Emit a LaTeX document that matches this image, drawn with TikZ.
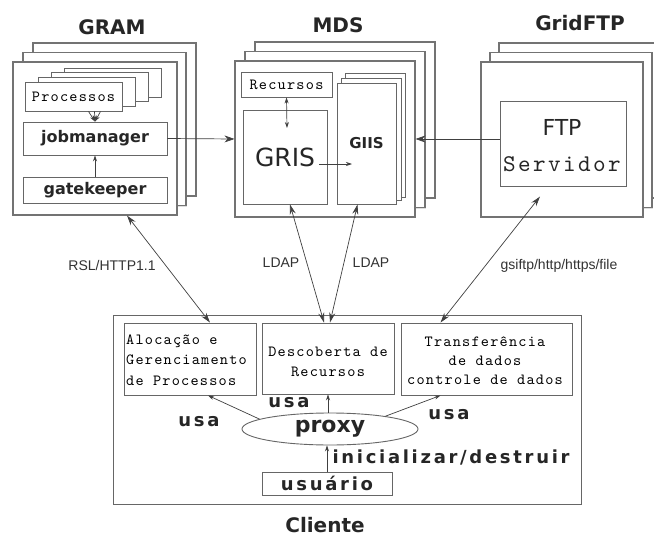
\documentclass[tikz,border=0pt]{standalone}
\usepackage{fontspec}
\usetikzlibrary{arrows.meta,shapes.geometric,shadows}
\newfontfamily\djv{DejaVu Sans}
\newfontfamily\djvsp[LetterSpace=15]{DejaVu Sans}
\newfontfamily\libs{Liberation Sans}
\newfontfamily\lmmsp[Extension=.otf, LetterSpace=8]{lmmono10-regular}
\newfontfamily\lmmwide[Extension=.otf, LetterSpace=10]{lmmono10-regular}
\newcommand\smallmono{\lmmsp\fontsize{15.5}{20.5}\selectfont}
\newcommand\bigmono{\lmmwide\fontsize{24}{28}\selectfont}
\tikzset{
  frame/.style={draw=black!55, line width=1.1pt, fill=white, inner sep=0pt,
    drop shadow={shadow xshift=1.2pt, shadow yshift=-1.2pt, fill=black!25}},
  box/.style={draw=black!60, line width=0.9pt, fill=white, inner sep=0pt},
  lnk/.style={draw=black!75, line width=0.7pt},
  big/.style={lnk, {Stealth[length=10pt,width=6pt]}-{Stealth[length=10pt,width=6pt]}},
  sm/.style={lnk, -{Stealth[length=6pt,width=4pt]}},
  title/.style={font=\djv\bfseries\fontsize{20}{24}\selectfont, text=black!85},
  bold/.style={font=\djv\bfseries\fontsize{16}{19}\selectfont, text=black!85},
  act/.style={font=\djvsp\bfseries\fontsize{18}{21}\selectfont, text=black!85},
  proto/.style={font=\libs\fontsize{14}{17}\selectfont, text=black!80},
}
\begin{document}
\begin{tikzpicture}[x=1pt,y=-1pt]
\useasboundingbox (0,0) rectangle (654,538);
\fill[white] (0,0) rectangle (654,538);
\clip (0,0) rectangle (654,538);

% ---------- titles ----------
\node[title] (tgram) at (112,27) {GRAM};
\node[title] (tmds) at (338,25) {MDS};
\node[title] (tftp) at (580,23) {GridFTP};

% ---------- GRAM stack ----------
\draw[frame] (33,43) rectangle (196,196);
\draw[frame] (23,52.5) rectangle (186,205.5);
\node[frame, minimum width=164pt, minimum height=153pt] (gram) at (95,138.5) {};
\draw[box] (64,68) rectangle (161,97);
\draw[box] (51,72.5) rectangle (148,101.5);
\draw[box] (38,77) rectangle (135,106);
\node[box, minimum width=97pt, minimum height=29pt, font=\smallmono] (proc) at (73.5,96.5) {Processos};
\node[box, minimum width=144pt, minimum height=33pt, bold] (jobman) at (95,138.5) {jobmanager};
\node[box, minimum width=144pt, minimum height=26pt, bold] (gate) at (95,190) {gatekeeper};

% ---------- MDS stack ----------
\draw[frame] (255,42) rectangle (435,198);
\draw[frame] (245,51.5) rectangle (425,207.5);
\node[frame, minimum width=180pt, minimum height=156pt] (mds) at (325,139) {};
\node[box, minimum width=91pt, minimum height=25pt, font=\smallmono] (rec) at (286.5,84.5) {Recursos};
\node[box, minimum width=84pt, minimum height=94pt, font=\djv\fontsize{25}{30}\selectfont, text=black!85] (gris) at (285,157) {GRIS};
\draw[box] (345,73) rectangle (405,197);
\draw[box] (341,78) rectangle (401,200.5);
\node[box, minimum width=59pt, minimum height=121pt, font=\djv\bfseries\fontsize{15}{18}\selectfont, text=black!85] (giis) at (366.5,143.5) {GIIS};
\coordinate (grisin) at (287,128);
\coordinate (grisout) at (319,164);
\coordinate (giisin) at (352,164);

% ---------- GridFTP stack ----------
\draw[frame] (499,43) rectangle (661,198);
\draw[frame] (490,52.5) rectangle (652,207.5);
\node[frame, minimum width=162pt, minimum height=155pt] (ftpf) at (562,139.5) {};
\node[box, minimum width=126pt, minimum height=85pt] (ftp) at (563,143.5) {};
\node[font=\djv\fontsize{22}{26}\selectfont, text=black!85] (ftptxt) at (562,127) {FTP};
\node[font=\bigmono, text=black!85] (serv) at (562,164) {Servidor};
\coordinate (ftpin) at (ftp.west |- mds.east);

% ---------- client ----------
\node[draw=black!60, line width=0.9pt, inner sep=0pt, minimum width=468pt, minimum height=189pt] (cli) at (347,409.5) {};
\node[font=\djv\bfseries\fontsize{20}{24}\selectfont, text=black!85, inner sep=1pt] (tcli) at (325,525) {Cliente};
\node[box, minimum width=132pt, minimum height=72pt] (aloc) at (190,359) {};
\node[anchor=west, align=left, font=\smallmono, inner sep=0pt] (aloctxt) at (126,360) {Alocação e\\Gerenciamento\\de Processos};
\node[box, minimum width=132pt, minimum height=71pt] (desc) at (328,358.5) {};
\node[align=center, font=\smallmono, inner sep=0pt] (desctxt) at (328,362) {Descoberta de\\Recursos};
\node[box, minimum width=171pt, minimum height=72pt] (transf) at (486.5,359) {};
\node[align=center, font=\lmmsp\fontsize{15.5}{19}\selectfont, inner sep=0pt] (transftxt) at (485,361) {Transferência\\de dados\\controle de dados};
\node[ellipse, draw=black!60, line width=0.9pt, inner sep=0pt, minimum width=176pt, minimum height=32pt,
      font=\djv\bfseries\fontsize{22}{26}\selectfont, text=black!85] (proxy) at (330,429) {proxy};
\node[box, minimum width=130pt, minimum height=23pt, act] (usu) at (327,483.5) {usuário};
\node[act] (usa1) at (199,422) {usa};
\node[act] (usa2) at (289,403) {usa};
\node[act] (usa3) at (449,415) {usa};
\node[act] (init) at (451,457) {inicializar/destruir};

% ---------- connectors inside the services ----------
\draw[sm] ([xshift=15pt]proc.south) -- (jobman.north);
\draw[sm] ([xshift=21pt]proc.south) -- (jobman.north);
\draw[sm] ([xshift=27pt]proc.south) -- (jobman.north);
\draw[sm] (gate.north) -- (jobman.south);
\draw[lnk, -{Stealth[length=10pt,width=7pt]}] (jobman.east) -- (mds.west);
\draw[lnk, {Stealth[length=6pt,width=4pt]}-{Stealth[length=6pt,width=4pt]}] (rec.south) -- (grisin);
\draw[sm] (grisout) -- (giisin);
\draw[lnk, -{Stealth[length=10pt,width=7pt]}] (ftpin) -- (mds.east);

% ---------- protocols between client and services ----------
\draw[big] ([xshift=32pt]gram.south) -- ([xshift=20pt]aloc.north);
\draw[big] ([xshift=5pt]gris.south) -- ([xshift=-4pt]desc.north);
\draw[big] ([xshift=-9pt]giis.south) -- ([xshift=2pt]desc.north);
\draw[big] ([xshift=-22pt,yshift=21pt]ftpf.south) -- ([xshift=-46pt]transf.north);
\node[proto] (lrsl) at (112,265) {RSL/HTTP1.1};
\node[proto] (lldap1) at (281,263) {LDAP};
\node[proto] (lldap2) at (371,263) {LDAP};
\node[proto] (lgsi) at (559,266) {gsiftp/http/https/file};

% ---------- client connectors ----------
\draw[sm] (proxy.172) -- ([xshift=18pt]aloc.south);
\draw[sm] (desc.south |- proxy.north) -- (desc.south);
\draw[sm] (proxy.13) -- ([xshift=-46pt]transf.south);
\draw[sm] (usu.north) -- (usu.north |- proxy.south);
\end{tikzpicture}
\end{document}
